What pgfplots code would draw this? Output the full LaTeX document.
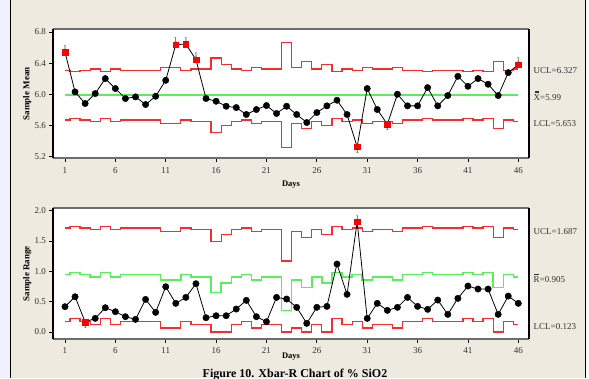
\documentclass[border=0pt]{standalone}
\usepackage{pgfplots}
\pgfplotsset{compat=1.18}
\usepackage{pgfplotstable}
\usepackage{fontspec}
\setmainfont{Liberation Serif}
\definecolor{bg}{RGB}{238,234,224}
\definecolor{lim}{RGB}{245,45,45}
\definecolor{cl}{RGB}{90,238,90}
\definecolor{tk}{RGB}{50,50,50}
\definecolor{fr}{RGB}{110,110,110}

\pgfplotstableread{
d x xd xu xn ucl lcl r rd ru rn rucl rcl rlcl
1 6.544 nan 6.544 nan 6.308 5.672 0.418 0.418 nan nan 1.714 0.944 0.174
2 6.032 6.032 nan nan 6.292 5.688 0.582 0.582 nan nan 1.739 0.979 0.218
3 5.883 5.883 nan nan 6.308 5.672 0.165 nan nan 0.165 1.714 0.944 0.174
4 6.011 6.011 nan nan 6.327 5.653 0.225 0.225 nan nan 1.687 0.905 0.123
5 6.203 6.203 nan nan 6.292 5.688 0.401 0.401 nan nan 1.739 0.979 0.218
6 6.075 6.075 nan nan 6.327 5.653 0.335 0.335 nan nan 1.687 0.905 0.123
7 5.947 5.947 nan nan 6.308 5.672 0.253 0.253 nan nan 1.714 0.944 0.174
8 5.968 5.968 nan nan 6.308 5.672 0.209 0.209 nan nan 1.714 0.944 0.174
9 5.870 5.870 nan nan 6.308 5.672 0.538 0.538 nan nan 1.714 0.944 0.174
10 5.976 5.976 nan nan 6.308 5.672 0.324 0.324 nan nan 1.714 0.944 0.174
11 6.181 6.181 nan nan 6.350 5.630 0.747 0.747 nan nan 1.654 0.860 0.065
12 6.638 nan 6.638 nan 6.350 5.630 0.473 0.473 nan nan 1.654 0.860 0.065
13 6.646 nan 6.646 nan 6.308 5.672 0.571 0.571 nan nan 1.714 0.944 0.174
14 6.446 nan 6.446 nan 6.327 5.653 0.797 0.797 nan nan 1.687 0.905 0.123
15 5.947 5.947 nan nan 6.327 5.653 0.236 0.236 nan nan 1.687 0.905 0.123
16 5.912 5.912 nan nan 6.467 5.513 0.269 0.269 nan nan 1.494 0.655 0.000
17 5.848 5.848 nan nan 6.379 5.601 0.269 0.269 nan nan 1.614 0.806 0.000
18 5.831 5.831 nan nan 6.327 5.653 0.379 0.379 nan nan 1.687 0.905 0.123
19 5.742 5.742 nan nan 6.308 5.672 0.522 0.522 nan nan 1.714 0.944 0.174
20 5.806 5.806 nan nan 6.350 5.630 0.253 0.253 nan nan 1.654 0.860 0.065
21 5.857 5.857 nan nan 6.327 5.653 0.170 0.170 nan nan 1.687 0.905 0.123
22 5.755 5.755 nan nan 6.327 5.653 0.571 0.571 nan nan 1.687 0.905 0.123
23 5.848 5.848 nan nan 6.664 5.316 0.544 0.544 nan nan 1.172 0.359 0.000
24 5.742 5.742 nan nan 6.350 5.630 0.407 0.407 nan nan 1.654 0.860 0.065
25 5.639 5.639 nan nan 6.417 5.563 0.143 0.143 nan nan 1.563 0.739 0.000
26 5.767 5.767 nan nan 6.327 5.653 0.407 0.407 nan nan 1.687 0.905 0.123
27 5.853 5.853 nan nan 6.379 5.601 0.423 0.423 nan nan 1.614 0.806 0.000
28 5.925 5.925 nan nan 6.292 5.688 1.121 1.121 nan nan 1.739 0.979 0.218
29 5.742 5.742 nan nan 6.327 5.653 0.621 0.621 nan nan 1.687 0.905 0.123
30 5.328 nan nan 5.328 6.308 5.672 1.819 nan 1.819 nan 1.714 0.944 0.174
31 6.075 6.075 nan nan 6.350 5.630 0.225 0.225 nan nan 1.654 0.860 0.065
32 5.806 5.806 nan nan 6.327 5.653 0.473 0.473 nan nan 1.687 0.905 0.123
33 5.618 nan nan 5.618 6.327 5.653 0.357 0.357 nan nan 1.687 0.905 0.123
34 6.002 6.002 nan nan 6.350 5.630 0.407 0.407 nan nan 1.654 0.860 0.065
35 5.853 5.853 nan nan 6.308 5.672 0.571 0.571 nan nan 1.714 0.944 0.174
36 5.853 5.853 nan nan 6.308 5.672 0.423 0.423 nan nan 1.714 0.944 0.174
37 6.087 6.087 nan nan 6.292 5.688 0.374 0.374 nan nan 1.739 0.979 0.218
38 5.853 5.853 nan nan 6.308 5.672 0.527 0.527 nan nan 1.714 0.944 0.174
39 5.985 5.985 nan nan 6.308 5.672 0.291 0.291 nan nan 1.714 0.944 0.174
40 6.232 6.232 nan nan 6.308 5.672 0.555 0.555 nan nan 1.714 0.944 0.174
41 6.104 6.104 nan nan 6.292 5.688 0.758 0.758 nan nan 1.739 0.979 0.218
42 6.203 6.203 nan nan 6.308 5.672 0.709 0.709 nan nan 1.714 0.944 0.174
43 6.130 6.130 nan nan 6.292 5.688 0.709 0.709 nan nan 1.739 0.979 0.218
44 5.985 5.985 nan nan 6.417 5.563 0.291 0.291 nan nan 1.563 0.739 0.000
45 6.279 6.279 nan nan 6.308 5.672 0.593 0.593 nan nan 1.714 0.944 0.174
46 6.382 nan 6.382 nan 6.327 5.653 0.473 0.473 nan nan 1.687 0.905 0.123
}\data

\newcommand{\barR}{\ooalign{R\cr\hidewidth\rule[0.80em]{0.55em}{0.05em}\hidewidth\cr}}
\newcommand{\barbarX}{\ooalign{X\cr\hidewidth\rule[0.82em]{0.45em}{0.05em}\hidewidth\cr\hidewidth\rule[0.97em]{0.45em}{0.05em}\hidewidth\cr}}

\tikzset{rlab/.style={anchor=west, inner sep=0, font=\fontsize{9}{10}\selectfont, text=tk, xshift=4.5pt, yshift=-2pt}}

\pgfplotsset{
  spcbase/.style={
    scale only axis, width=476pt,
    xmin=-0.19, xmax=47.06,
    xtick={1,6,11,16,21,26,31,36,41,46},
    axis background/.style={fill=white},
    axis line style={draw=none},
    tick align=outside, xtick pos=bottom, ytick pos=left,
    major tick length=3.5pt,
    tick style={black, line width=0.7pt},
    ticklabel style={font=\fontsize{9}{10}\selectfont, text=tk},
    xticklabel style={yshift=-2pt},
    /pgf/number format/assume math mode=true,
    y tick label style={/pgf/number format/.cd, fixed, fixed zerofill, precision=1},
    xlabel={Days},
    xlabel style={anchor=center, font=\bfseries\fontsize{8.5}{9}\selectfont},
    ylabel style={at={(axis description cs:-0.054,0.5)}, anchor=center, font=\bfseries\fontsize{9}{10}\selectfont},
    clip=false,
  },
  limline/.style={const plot mark mid, lim, line width=1.2pt, no marks},
  cline/.style={const plot mark mid, cl, line width=1.4pt, no marks},
  onelab/.style={nodes near coords={1}, every node near coord/.style={font=\fontsize{7.5}{8}\selectfont, text=tk, inner sep=1pt}},
}

\begin{document}
\begin{tikzpicture}
\path[use as bounding box] (0pt,0pt) rectangle (589pt,-378pt);
\clip (0pt,0pt) rectangle (589pt,-378pt);
\fill[bg] (0pt,0pt) rectangle (589pt,-378pt);
\fill[white!94!blue] (0pt,0pt) rectangle (10pt,-378pt);
\fill[white!96!gray] (585pt,0pt) rectangle (589pt,-378pt);
\draw[black, line width=1pt] (10pt,0pt) -- (10pt,-378pt);
\draw[black, line width=1pt] (585pt,0pt) -- (585pt,-378pt);

% ---------------- Xbar chart ----------------
\begin{axis}[spcbase, at={(53pt,-158.3pt)}, anchor=south west, height=129.3pt,
  ymin=5.18, ymax=6.839, ytick={5.2,5.6,6.0,6.4,6.8},
  ylabel={Sample Mean},
  xlabel style={at={(axis description cs:0.5,-0.2)}}]
\addplot[limline] table[x=d,y=ucl]{\data};
\addplot[limline] table[x=d,y=lcl]{\data};
\addplot[cl, line width=1.4pt] coordinates {(1,5.99) (46,5.99)};
\addplot[black, line width=0.8pt, no marks] table[x=d,y=x]{\data};
\addplot[only marks, mark=*, mark size=3.2pt, black] table[x=d,y=xd]{\data};
\addplot[only marks, mark=square*, mark size=2.8pt, red, onelab, every node near coord/.append style={anchor=south, yshift=0.5pt}] table[x=d,y=xu]{\data};
\addplot[only marks, mark=square*, mark size=2.8pt, red, onelab, every node near coord/.append style={anchor=north, yshift=-0.5pt}] table[x=d,y=xn]{\data};
\draw[fr, line width=1.8pt] (rel axis cs:0,0) -- (rel axis cs:1,0);
\draw[fr, line width=1.8pt] (rel axis cs:0,1) -- (rel axis cs:1,1);
\draw[black, line width=1.1pt] (rel axis cs:0,0) -- (rel axis cs:0,1);
\draw[black, line width=1.1pt] (rel axis cs:1,0) -- (rel axis cs:1,1);
\node[rlab] at (axis cs:47.06,6.327) {UCL=6.327};
\node[rlab] at (axis cs:47.06,5.99) {\barbarX=5.99};
\node[rlab] at (axis cs:47.06,5.653) {LCL=5.653};
\end{axis}

% ---------------- R chart ----------------
\begin{axis}[spcbase, at={(53pt,-339pt)}, anchor=south west, height=130.7pt,
  ymin=-0.115, ymax=2.04, ytick={0,0.5,1.0,1.5,2.0},
  ylabel={Sample Range},
  xlabel style={at={(axis description cs:0.5,-0.138)}}]
\addplot[limline] table[x=d,y=rucl]{\data};
\addplot[limline] table[x=d,y=rlcl]{\data};
\addplot[cline] table[x=d,y=rcl]{\data};
\addplot[black, line width=0.8pt, no marks] table[x=d,y=r]{\data};
\addplot[only marks, mark=*, mark size=3.2pt, black] table[x=d,y=rd]{\data};
\addplot[only marks, mark=square*, mark size=2.8pt, red, onelab, every node near coord/.append style={anchor=south, yshift=0.5pt}] table[x=d,y=ru]{\data};
\addplot[only marks, mark=square*, mark size=2.8pt, red, onelab, every node near coord/.append style={anchor=north, yshift=-0.5pt}] table[x=d,y=rn]{\data};
\draw[fr, line width=1.8pt] (rel axis cs:0,0) -- (rel axis cs:1,0);
\draw[fr, line width=1.8pt] (rel axis cs:0,1) -- (rel axis cs:1,1);
\draw[black, line width=1.1pt] (rel axis cs:0,0) -- (rel axis cs:0,1);
\draw[black, line width=1.1pt] (rel axis cs:1,0) -- (rel axis cs:1,1);
\node[rlab] at (axis cs:47.06,1.687) {UCL=1.687};
\node[rlab] at (axis cs:47.06,0.905) {\barR=0.905};
\node[rlab] at (axis cs:47.06,0.123) {LCL=0.123};
\end{axis}

\node[font=\bfseries\fontsize{12}{13}\selectfont, anchor=base] at (295pt,-377pt) {Figure 10. Xbar-R Chart of \% SiO2};
\end{tikzpicture}
\end{document}
